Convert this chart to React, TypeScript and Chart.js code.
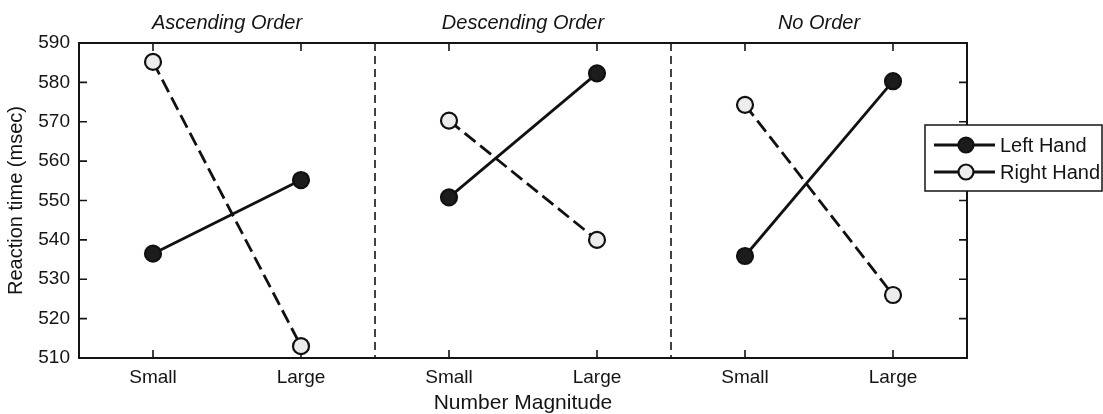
import React, { useEffect, useRef } from 'react';
import { Chart, registerables } from 'chart.js';

Chart.register(...registerables);

// ---- data ----
const panelTitles = ['Ascending Order', 'Descending Order', 'No Order'];
const magnitudes = ['Small', 'Large'];
const leftHand = [536.5, 555.2, 550.8, 582.3, 535.9, 580.3];
const rightHand = [585.2, 513.0, 570.3, 540.0, 574.3, 526.0];
const seriesNames = ['Left Hand', 'Right Hand'];
const yMin = 510;
const yMax = 590;
const yStep = 10;
const xTitle = 'Number Magnitude';
const yTitle = 'Reaction time (msec)';

const FONT = "'Liberation Sans', Arial, Helvetica, sans-serif";
const INK = '#141414';
const W = 1103;
const H = 414;

const categoryLabels: string[] = [];
panelTitles.forEach(() => magnitudes.forEach((m) => categoryLabels.push(m)));

const framePlugin = {
  id: 'frameAndPanels',
  beforeDatasetsDraw(chart: any) {
    const { ctx, chartArea: a, scales } = chart;
    const x = scales.x;
    const y = scales.y;
    ctx.save();
    // panel dividers
    ctx.strokeStyle = INK;
    ctx.lineWidth = 1.6;
    ctx.setLineDash([8, 5]);
    for (let p = 1; p < panelTitles.length; p++) {
      const px = Math.round(x.getPixelForValue(p * magnitudes.length - 0.5));
      ctx.beginPath();
      ctx.moveTo(px, a.top);
      ctx.lineTo(px, a.bottom);
      ctx.stroke();
    }
    ctx.setLineDash([]);
    // frame
    ctx.lineWidth = 2;
    ctx.strokeRect(a.left, a.top, a.right - a.left, a.bottom - a.top);
    // inward ticks
    const tl = 8;
    ctx.lineWidth = 1.6;
    ctx.beginPath();
    for (let v = yMin; v <= yMax; v += yStep) {
      const py = y.getPixelForValue(v);
      ctx.moveTo(a.left, py);
      ctx.lineTo(a.left + tl, py);
      ctx.moveTo(a.right, py);
      ctx.lineTo(a.right - tl, py);
    }
    for (let i = 0; i < categoryLabels.length; i++) {
      const px = x.getPixelForTick(i);
      ctx.moveTo(px, a.top);
      ctx.lineTo(px, a.top + tl);
      ctx.moveTo(px, a.bottom);
      ctx.lineTo(px, a.bottom - tl);
    }
    ctx.stroke();
    ctx.restore();
  },
  afterDraw(chart: any) {
    const { ctx, scales } = chart;
    const x = scales.x;
    ctx.save();
    // panel titles
    ctx.fillStyle = INK;
    ctx.font = `italic 20px ${FONT}`;
    ctx.textAlign = 'center';
    ctx.textBaseline = 'middle';
    panelTitles.forEach((t, p) => {
      const cx = x.getPixelForValue(p * magnitudes.length + (magnitudes.length - 1) / 2);
      ctx.fillText(t, cx, 23);
    });
    // legend
    const bx = 925;
    const by = 125;
    const bw = 177;
    const bh = 66;
    ctx.fillStyle = '#ffffff';
    ctx.fillRect(bx, by, bw, bh);
    ctx.strokeStyle = INK;
    ctx.lineWidth = 1.5;
    ctx.strokeRect(bx, by, bw, bh);
    const rows = [
      { name: seriesNames[0], fill: '#1c1c1c', y: 145 },
      { name: seriesNames[1], fill: '#ececec', y: 172 },
    ];
    rows.forEach((r) => {
      ctx.strokeStyle = '#111';
      ctx.lineWidth = 2.8;
      ctx.beginPath();
      ctx.moveTo(934, r.y);
      ctx.lineTo(995, r.y);
      ctx.stroke();
      ctx.beginPath();
      ctx.arc(966, r.y, 7.5, 0, Math.PI * 2);
      ctx.fillStyle = r.fill;
      ctx.fill();
      ctx.lineWidth = 2.2;
      ctx.stroke();
      ctx.fillStyle = INK;
      ctx.font = `20px ${FONT}`;
      ctx.textAlign = 'left';
      ctx.textBaseline = 'middle';
      ctx.fillText(r.name, 1000, r.y + 1);
    });
    ctx.restore();
  },
};

const hideCross = (c: any) =>
  c.p0DataIndex % magnitudes.length === magnitudes.length - 1 ? 'rgba(0,0,0,0)' : undefined;

export default function App() {
  const ref = useRef<HTMLCanvasElement | null>(null);
  useEffect(() => {
    if (!ref.current) return;
    Chart.defaults.font.family = FONT;
    Chart.defaults.color = INK;
    const chart = new Chart(ref.current, {
      type: 'line',
      data: {
        labels: categoryLabels,
        datasets: [
          {
            label: seriesNames[0],
            data: leftHand,
            borderColor: '#111',
            borderWidth: 2.8,
            pointRadius: 8,
            pointBorderWidth: 2.2,
            pointBackgroundColor: '#1c1c1c',
            pointBorderColor: '#111',
            tension: 0,
            segment: { borderColor: hideCross },
          },
          {
            label: seriesNames[1],
            data: rightHand,
            borderColor: '#111',
            borderWidth: 2.8,
            borderDash: [14, 6],
            pointRadius: 8,
            pointBorderWidth: 2.2,
            pointBackgroundColor: '#ececec',
            pointBorderColor: '#111',
            tension: 0,
            segment: { borderColor: hideCross },
          },
        ],
      },
      options: {
        responsive: false,
        animation: false,
        devicePixelRatio: 1,
        layout: { padding: { left: 0, right: W - 967, top: 43, bottom: 0 } },
        plugins: {
          legend: { display: false },
          tooltip: { enabled: false },
        },
        scales: {
          x: {
            type: 'category',
            offset: true,
            grid: { display: false, drawTicks: false },
            border: { display: false },
            ticks: { font: { size: 19 }, color: INK, padding: 8, maxRotation: 0, autoSkip: false },
            title: {
              display: true,
              text: xTitle,
              font: { size: 21, lineHeight: 1 },
              color: INK,
              padding: { top: 0, bottom: 0 },
            },
            afterFit: (s: any) => {
              s.height = H - 358;
            },
          },
          y: {
            min: yMin,
            max: yMax,
            grid: { display: false, drawTicks: false },
            border: { display: false },
            ticks: { stepSize: yStep, font: { size: 19 }, color: INK, padding: 9 },
            title: { display: true, text: yTitle, font: { size: 20 }, color: INK, padding: { top: 4, bottom: 0 } },
            afterFit: (s: any) => {
              s.width = 79;
            },
          },
        },
      },
      plugins: [framePlugin],
    } as any);
    return () => chart.destroy();
  }, []);
  return (
    <div style={{ position: 'fixed', left: 0, top: 0, width: W, height: H, background: '#fff' }}>
      <canvas ref={ref} width={W} height={H} style={{ width: W, height: H, display: 'block' }} />
    </div>
  );
}
